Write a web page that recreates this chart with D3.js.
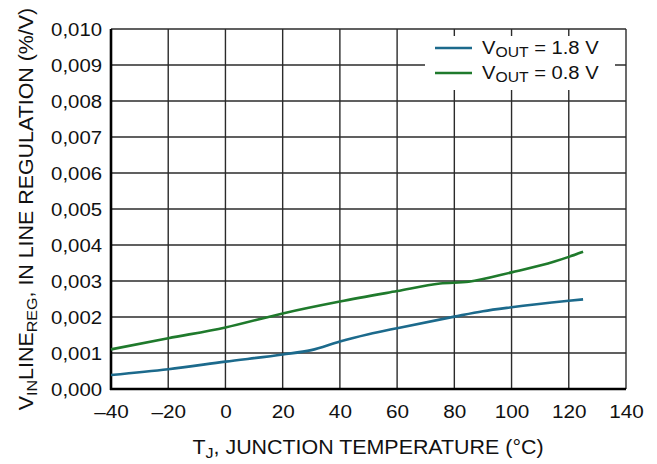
<!DOCTYPE html>
<html>
<head>
<meta charset="utf-8">
<script src="https://cdn.jsdelivr.net/npm/d3@7"></script>
<style>
  html, body { margin: 0; padding: 0; background: #fff; }
  svg text { font-family: "Liberation Sans", Arial, sans-serif; fill: #111; }
</style>
</head>
<body>
<svg id="chart" width="657" height="464"></svg>
<script>
// Junction temperature (°C) samples and line regulation (%/V) per output voltage
const tempsHigh = [-40, -20, 0, 20, 30, 40, 50, 60, 80, 90, 100, 120, 125];
const vout18 = [0.00039, 0.00055, 0.00076, 0.00096, 0.00108, 0.00132, 0.00152, 0.00169, 0.00201, 0.00216, 0.00227, 0.00245, 0.00249];
const tempsLow = [-40, -20, 0, 20, 40, 60, 75, 85, 100, 115, 120, 125];
const vout08 = [0.0011, 0.00141, 0.00171, 0.0021, 0.00243, 0.00272, 0.00293, 0.00298, 0.00324, 0.00354, 0.00367, 0.00381];

const xTicks = [-40, -20, 0, 20, 40, 60, 80, 100, 120, 140];
const yTicks = [0, 0.001, 0.002, 0.003, 0.004, 0.005, 0.006, 0.007, 0.008, 0.009, 0.010];

const seriesNames = ["1.8 V", "0.8 V"];
const seriesColors = ["#1c6a8c", "#1f7a2c"];

const margin = { left: 111, right: 31, top: 29, bottom: 75 };
const W = 657, H = 464;
const svg = d3.select("#chart");

const x = d3.scaleLinear().domain([-40, 140]).range([margin.left, W - margin.right]);
const y = d3.scaleLinear().domain([0, 0.010]).range([H - margin.bottom, margin.top]);

const fmtX = d => d < 0 ? "\u2013" + Math.abs(d) : String(d);
const fmtY = d => d3.format(".3f")(d).replace(".", ",");

// widen the glyphs a little (the lettering is set slightly extended)
function extend(sel, k) {
  sel.each(function () {
    const len = this.getComputedTextLength();
    d3.select(this).attr("textLength", len * k).attr("lengthAdjust", "spacingAndGlyphs");
  });
}

// grid
const grid = svg.append("g").attr("stroke", "#2b2b2b").attr("stroke-width", 1.4);
grid.selectAll("line.v").data(xTicks.slice(1)).join("line")
  .attr("x1", d => x(d)).attr("x2", d => x(d))
  .attr("y1", y(0)).attr("y2", y(0.010));
grid.selectAll("line.h").data(yTicks.slice(1)).join("line")
  .attr("x1", x(-40)).attr("x2", x(140))
  .attr("y1", d => y(d)).attr("y2", d => y(d));

// legend backdrop
svg.append("rect")
  .attr("x", 425).attr("y", 36).attr("width", 190).attr("height", 54)
  .attr("fill", "#fff");

// axes (no tick marks, labels only)
const xAxis = d3.axisBottom(x).tickValues(xTicks).tickFormat(fmtX).tickSize(0).tickPadding(16);
const yAxis = d3.axisLeft(y).tickValues(yTicks).tickFormat(fmtY).tickSize(0).tickPadding(9);

const gx = svg.append("g").attr("transform", `translate(0,${y(0)})`).call(xAxis);
const gy = svg.append("g").attr("transform", `translate(${x(-40)},0)`).call(yAxis);
[gx, gy].forEach(g => {
  g.select(".domain").remove();
  g.selectAll("text").attr("font-size", 18).attr("font-family", "Liberation Sans, Arial, sans-serif").attr("fill", "#111");
});
gy.selectAll("text").attr("dy", "0.36em");
extend(gx.selectAll("text"), 1.15);
extend(gy.selectAll("text"), 1.13);

// main axis lines
svg.append("line").attr("x1", x(-40)).attr("x2", x(-40)).attr("y1", y(0.010)).attr("y2", y(0) + 1)
  .attr("stroke", "#000").attr("stroke-width", 2.6);
svg.append("line").attr("x1", x(-40) - 1).attr("x2", x(140)).attr("y1", y(0)).attr("y2", y(0))
  .attr("stroke", "#000").attr("stroke-width", 2.6);

// curves
const line = d3.line().x(d => x(d[0])).y(d => y(d[1])).curve(d3.curveMonotoneX);
const data = [
  d3.zip(tempsHigh, vout18),
  d3.zip(tempsLow, vout08)
];
svg.selectAll("path.series").data(data).join("path")
  .attr("class", "series")
  .attr("d", line)
  .attr("fill", "none")
  .attr("stroke", (d, i) => seriesColors[i])
  .attr("stroke-width", 2.6);

// legend
const leg = svg.append("g");
seriesNames.forEach((name, i) => {
  const yy = 48 + i * 25;
  leg.append("line").attr("x1", 435).attr("x2", 472).attr("y1", yy).attr("y2", yy)
    .attr("stroke", seriesColors[i]).attr("stroke-width", 2.6);
  const t = leg.append("text").attr("x", 482).attr("y", yy + 6).attr("font-size", 18);
  t.append("tspan").text("V");
  t.append("tspan").attr("font-size", 14).attr("dy", 3).text("OUT");
  t.append("tspan").attr("dy", -3).text(" = " + name);
  extend(t, 1.12);
});

// axis titles
const xt = svg.append("text")
  .attr("x", 368).attr("y", 454).attr("text-anchor", "middle").attr("font-size", 20);
xt.append("tspan").text("T");
xt.append("tspan").attr("font-size", 15).attr("dy", 4).text("J");
xt.append("tspan").attr("dy", -4).text(", JUNCTION TEMPERATURE (\u00B0C)");
extend(xt, 1.07);

const yt = svg.append("text")
  .attr("transform", "translate(33,209) rotate(-90)")
  .attr("text-anchor", "middle").attr("font-size", 20);
yt.append("tspan").text("V");
yt.append("tspan").attr("font-size", 15).attr("dy", 4).text("IN");
yt.append("tspan").attr("dy", -4).text("LINE");
yt.append("tspan").attr("font-size", 15).attr("dy", 4).text("REG");
yt.append("tspan").attr("dy", -4).text(", IN LINE REGULATION (%/V)");
extend(yt, 1.07);
</script>
</body>
</html>
